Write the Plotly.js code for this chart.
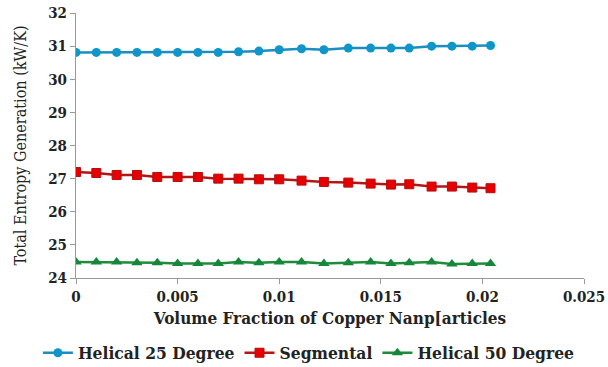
<!DOCTYPE html>
<html><head><meta charset="utf-8">
<script src="https://cdn.plot.ly/plotly-3.0.1.min.js"></script>
<style>body{margin:0;background:#fff}#c{width:608px;height:367px}</style>
</head><body><div id="c"></div>
<script>
const volumeFraction = [0, 0.001, 0.002, 0.003, 0.004, 0.005, 0.006, 0.007, 0.008, 0.009, 0.010, 0.0111, 0.0122, 0.0134, 0.0145, 0.0155, 0.0164, 0.0175, 0.0185, 0.0195, 0.0204];
const helical25 = [30.81, 30.81, 30.81, 30.81, 30.81, 30.81, 30.81, 30.81, 30.83, 30.85, 30.89, 30.92, 30.89, 30.94, 30.94, 30.94, 30.94, 31.0, 31.0, 31.0, 31.02];
const segmental = [27.2, 27.17, 27.11, 27.11, 27.05, 27.05, 27.05, 27.0, 27.0, 26.98, 26.98, 26.94, 26.9, 26.88, 26.85, 26.82, 26.83, 26.76, 26.76, 26.73, 26.71];
const helical50 = [24.48, 24.48, 24.48, 24.46, 24.46, 24.44, 24.44, 24.44, 24.48, 24.46, 24.48, 24.48, 24.44, 24.46, 24.48, 24.44, 24.46, 24.48, 24.42, 24.44, 24.44];
const seriesNames = ["Helical 25 Degree", "Segmental", "Helical 50 Degree"];
const xTicks = [0, 0.005, 0.01, 0.015, 0.02, 0.025];
const xTickLabels = ["0", "0.005", "0.01", "0.015", "0.02", "0.025"];
const yTicks = [24, 25, 26, 27, 28, 29, 30, 31, 32];

const F = "DejaVu Serif Condensed";
const traces = [
  {x: volumeFraction, y: helical25, name: seriesNames[0], mode: "lines+markers",
   line: {color: "#1C8DC0", width: 2.5}, marker: {symbol: "circle", size: 9, color: "#0E95C9"}},
  {x: volumeFraction, y: segmental, name: seriesNames[1], mode: "lines+markers",
   line: {color: "#B51515", width: 2.5}, marker: {symbol: "square", size: 9, color: "#E80000", line: {color: "#B01010", width: 1}}},
  {x: volumeFraction, y: helical50, name: seriesNames[2], mode: "lines+markers",
   line: {color: "#1E8C3A", width: 2.5}, marker: {symbol: "triangle-up", size: 10, color: "#14873A"}}
];
const layout = {
  width: 608, height: 367,
  margin: {l: 76, r: 24, t: 13, b: 89, autoexpand: false},
  paper_bgcolor: "#fff", plot_bgcolor: "#fff",
  showlegend: true,
  legend: {orientation: "h", x: -0.075, xanchor: "left", y: -0.283, yanchor: "middle",
           font: {family: F, size: 17.3, color: "#222", weight: "bold"}, traceorder: "normal", itemwidth: 30},
  xaxis: {range: [0, 0.025], tickvals: xTicks, ticktext: xTickLabels, showgrid: false, zeroline: false,
          showline: true, linecolor: "#999", linewidth: 1, ticks: "outside", ticklen: 5, tickcolor: "#999",
          tickfont: {family: F, size: 15, color: "#222", weight: "bold"},
          title: {text: "Volume Fraction of Copper Nanp[articles", font: {family: F, size: 17, color: "#222", weight: "bold"}, standoff: 7}},
  yaxis: {range: [24, 32], tickvals: yTicks, showgrid: false, zeroline: false,
          showline: true, linecolor: "#999", linewidth: 1, ticks: "outside", ticklen: 5, tickcolor: "#999",
          tickfont: {family: F, size: 15, color: "#222", weight: "bold"},
          title: {text: "Total Entropy Generation (kW/K)", font: {family: F, size: 16, color: "#222"}, standoff: 17}}
};
Plotly.newPlot("c", traces, layout, {displayModeBar: false, staticPlot: true});
</script></body></html>
